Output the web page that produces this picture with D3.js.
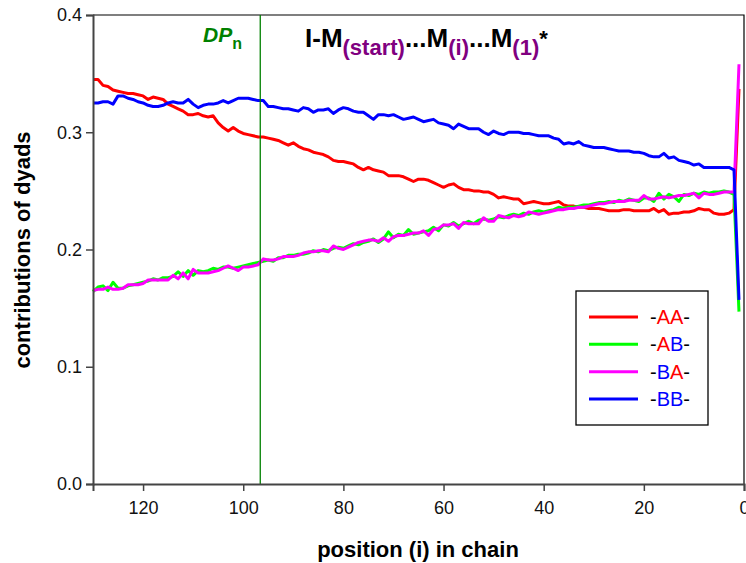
<!DOCTYPE html>
<html>
<head>
<meta charset="utf-8">
<script src="https://cdn.jsdelivr.net/npm/d3@7"></script>
<style>
  html, body { margin: 0; padding: 0; background: #fff; }
  svg { display: block; font-family: "Liberation Sans", Arial, sans-serif; }
</style>
</head>
<body>
<svg id="chart" width="746" height="563"></svg>
<script>
// Chain positions, counted from the chain end (130 ... 1)
const positions = d3.range(130, 0, -1);

// Dyad contributions at each position (same order as positions)
const seriesAA = [
  0.345,0.345,0.340,0.339,0.336,0.335,0.334,0.333,0.333,0.332,
  0.331,0.328,0.330,0.329,0.328,0.324,0.322,0.320,0.318,0.315,
  0.315,0.316,0.314,0.313,0.314,0.308,0.304,0.301,0.304,0.301,
  0.299,0.298,0.297,0.296,0.296,0.295,0.294,0.293,0.291,0.289,
  0.291,0.288,0.286,0.285,0.283,0.282,0.281,0.279,0.276,0.275,
  0.275,0.274,0.273,0.270,0.268,0.270,0.268,0.267,0.266,0.263,
  0.263,0.263,0.262,0.260,0.258,0.260,0.260,0.259,0.257,0.255,
  0.253,0.255,0.256,0.253,0.251,0.251,0.250,0.250,0.249,0.249,
  0.247,0.244,0.245,0.244,0.243,0.243,0.239,0.240,0.241,0.240,
  0.239,0.239,0.240,0.241,0.238,0.237,0.237,0.236,0.236,0.235,
  0.235,0.235,0.234,0.233,0.233,0.233,0.234,0.234,0.233,0.233,
  0.233,0.233,0.235,0.232,0.234,0.230,0.231,0.231,0.232,0.232,
  0.233,0.235,0.234,0.234,0.231,0.230,0.230,0.231,0.234,0.337
];
const seriesAB = [
  0.164,0.168,0.169,0.165,0.172,0.167,0.167,0.169,0.170,0.171,
  0.172,0.173,0.175,0.174,0.176,0.176,0.177,0.181,0.177,0.182,
  0.178,0.182,0.181,0.182,0.184,0.183,0.185,0.185,0.184,0.185,
  0.186,0.187,0.188,0.189,0.190,0.191,0.190,0.193,0.193,0.195,
  0.195,0.196,0.196,0.197,0.199,0.198,0.200,0.199,0.201,0.202,
  0.201,0.203,0.205,0.204,0.206,0.207,0.209,0.206,0.209,0.215,
  0.210,0.213,0.212,0.217,0.213,0.214,0.215,0.216,0.219,0.216,
  0.221,0.220,0.223,0.220,0.222,0.224,0.222,0.225,0.226,0.225,
  0.226,0.228,0.227,0.229,0.230,0.229,0.231,0.230,0.232,0.233,
  0.232,0.233,0.234,0.236,0.235,0.236,0.236,0.237,0.238,0.238,
  0.239,0.240,0.240,0.241,0.240,0.242,0.241,0.243,0.242,0.241,
  0.244,0.244,0.241,0.248,0.243,0.247,0.245,0.241,0.247,0.246,
  0.248,0.247,0.249,0.248,0.249,0.249,0.250,0.249,0.247,0.147
];
const seriesBA = [
  0.165,0.166,0.166,0.168,0.166,0.166,0.167,0.170,0.170,0.170,
  0.171,0.174,0.174,0.174,0.174,0.174,0.178,0.175,0.180,0.175,
  0.183,0.180,0.180,0.180,0.181,0.182,0.184,0.186,0.184,0.182,
  0.185,0.185,0.186,0.187,0.192,0.191,0.191,0.192,0.194,0.194,
  0.194,0.195,0.197,0.198,0.198,0.199,0.199,0.198,0.203,0.201,
  0.200,0.202,0.204,0.206,0.207,0.208,0.208,0.207,0.210,0.207,
  0.211,0.212,0.212,0.213,0.214,0.214,0.216,0.212,0.217,0.218,
  0.221,0.221,0.222,0.218,0.223,0.222,0.222,0.222,0.227,0.224,
  0.224,0.229,0.228,0.227,0.229,0.228,0.229,0.232,0.231,0.230,
  0.231,0.232,0.233,0.234,0.234,0.235,0.235,0.236,0.236,0.237,
  0.238,0.239,0.239,0.240,0.241,0.241,0.241,0.242,0.242,0.242,
  0.246,0.243,0.243,0.244,0.245,0.244,0.245,0.246,0.246,0.247,
  0.248,0.244,0.248,0.247,0.247,0.248,0.249,0.249,0.249,0.358
];
const seriesBB = [
  0.325,0.325,0.326,0.326,0.324,0.331,0.331,0.329,0.328,0.326,
  0.325,0.323,0.322,0.322,0.323,0.325,0.326,0.325,0.325,0.328,
  0.324,0.321,0.323,0.324,0.324,0.325,0.327,0.325,0.327,0.329,
  0.329,0.329,0.328,0.327,0.327,0.322,0.322,0.321,0.320,0.320,
  0.319,0.318,0.321,0.320,0.317,0.319,0.319,0.320,0.316,0.319,
  0.321,0.320,0.318,0.317,0.317,0.314,0.311,0.315,0.315,0.314,
  0.315,0.313,0.311,0.312,0.313,0.311,0.309,0.310,0.311,0.308,
  0.307,0.306,0.303,0.307,0.305,0.303,0.303,0.303,0.300,0.298,
  0.301,0.299,0.298,0.300,0.300,0.300,0.299,0.299,0.298,0.297,
  0.297,0.297,0.295,0.294,0.290,0.291,0.290,0.292,0.289,0.288,
  0.287,0.287,0.287,0.286,0.285,0.284,0.284,0.284,0.283,0.283,
  0.282,0.280,0.279,0.279,0.282,0.278,0.279,0.276,0.275,0.274,
  0.272,0.273,0.270,0.270,0.270,0.270,0.270,0.270,0.268,0.157
];

// Average chain length marker
const dpN = 96.6;

const xTicks = [120, 100, 80, 60, 40, 20, 0];
const yTicks = [0.0, 0.1, 0.2, 0.3, 0.4];

const seriesList = [
  { key: "AA", values: seriesAA, color: "#ff0000" },
  { key: "AB", values: seriesAB, color: "#00ff00" },
  { key: "BA", values: seriesBA, color: "#ff00ff" },
  { key: "BB", values: seriesBB, color: "#0000ff" }
];

const svg = d3.select("#chart");
const m = { left: 93, right: 744, top: 15, bottom: 484 };

const x = d3.scaleLinear().domain([130, 0]).range([m.left, m.right]);
const y = d3.scaleLinear().domain([0, 0.4]).range([m.bottom, m.top]);

// frame: top and right edges
svg.append("path")
  .attr("d", `M${m.left},${m.top}H${m.right}V${m.bottom}`)
  .attr("fill", "none").attr("stroke", "#000").attr("stroke-width", 1.2);

// data lines
const line = d3.line()
  .x((d, i) => x(positions[i]))
  .y(d => y(d));

svg.append("g").selectAll("path")
  .data(seriesList)
  .join("path")
  .attr("d", s => line(s.values))
  .attr("fill", "none")
  .attr("stroke", s => s.color)
  .attr("stroke-width", 3)
  .attr("stroke-linejoin", "round");

// DPn marker
svg.append("line")
  .attr("x1", x(dpN)).attr("x2", x(dpN))
  .attr("y1", m.top).attr("y2", m.bottom)
  .attr("stroke", "#008000").attr("stroke-width", 1.3);

// axes
const xAxis = d3.axisBottom(x).tickValues(xTicks).tickFormat(d3.format("d"))
  .tickSize(7).tickPadding(10);
const gx = svg.append("g").attr("transform", `translate(0,${m.bottom})`).call(xAxis);

const yAxis = d3.axisLeft(y).tickValues(yTicks).tickFormat(d3.format(".1f"))
  .tickSize(7).tickPadding(4);
const gy = svg.append("g").attr("transform", `translate(${m.left},0)`).call(yAxis);

[gx, gy].forEach(g => {
  g.select(".domain").attr("stroke", "#444").attr("stroke-width", 2);
  g.selectAll(".tick line").attr("stroke", "#444").attr("stroke-width", 1.5);
  g.selectAll(".tick text")
    .attr("fill", "#111")
    .style("font-family", "'Liberation Sans', Arial, sans-serif")
    .style("font-size", "18px");
});

// axis titles
svg.append("text")
  .attr("x", 418).attr("y", 557)
  .attr("text-anchor", "middle")
  .style("font-size", "22px").style("font-weight", "bold")
  .text("position (i) in chain");

svg.append("text")
  .attr("transform", "translate(30,250) rotate(-90)")
  .attr("text-anchor", "middle")
  .style("font-size", "22px").style("font-weight", "bold")
  .text("contributions of dyads");

// DPn label
const dp = svg.append("text")
  .attr("x", 203).attr("y", 42)
  .attr("fill", "#008000")
  .style("font-weight", "bold");
dp.append("tspan").style("font-style", "italic").style("font-size", "21px").text("DP");
dp.append("tspan").attr("dy", 7).style("font-size", "16px").text("n");

// chain notation
const purple = "#800080";
const t = svg.append("text")
  .attr("x", 305).attr("y", 47)
  .style("font-weight", "bold").attr("fill", "#000");
t.append("tspan").style("font-size", "26px").text("I-M");
t.append("tspan").attr("dy", 8).attr("fill", purple).style("font-size", "22px").text("(start)");
t.append("tspan").attr("dy", -8).style("font-size", "26px").text("...M");
t.append("tspan").attr("dy", 8).attr("fill", purple).style("font-size", "22px").text("(i)");
t.append("tspan").attr("dy", -8).style("font-size", "26px").text("...M");
t.append("tspan").attr("dy", 8).attr("fill", purple).style("font-size", "22px").text("(1)");
t.append("tspan").attr("dy", -9).style("font-size", "22px").text("*");

// legend
const lg = svg.append("g");
lg.append("rect")
  .attr("x", 576).attr("y", 291).attr("width", 132).attr("height", 134)
  .attr("fill", "#fff").attr("stroke", "#000").attr("stroke-width", 1.3);
const rowY = d3.scalePoint().domain(seriesList.map(s => s.key)).range([317, 399]);
const rows = lg.selectAll("g.row").data(seriesList).join("g")
  .attr("transform", s => `translate(0,${rowY(s.key)})`);
rows.append("line")
  .attr("x1", 589).attr("x2", 638)
  .attr("stroke", s => s.color).attr("stroke-width", 3);
const lt = rows.append("text")
  .attr("x", 650).attr("y", 7)
  .style("font-size", "20px");
lt.each(function(s) {
  const el = d3.select(this);
  el.append("tspan").attr("fill", "#000").text("-");
  s.key.split("").forEach(ch => {
    el.append("tspan").attr("fill", ch === "A" ? "#ff0000" : "#0000ff").text(ch);
  });
  el.append("tspan").attr("fill", "#000").text("-");
});
</script>
</body>
</html>
